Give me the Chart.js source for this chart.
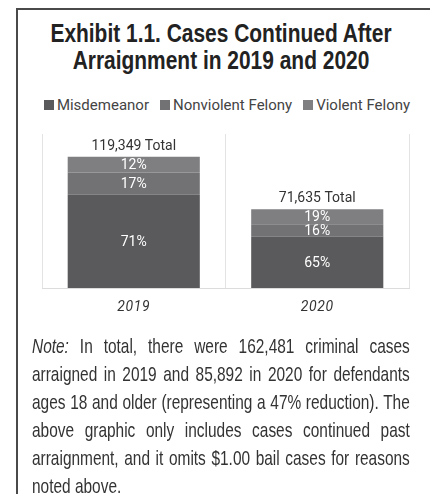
<!DOCTYPE html>
<html>
<head>
<meta charset="utf-8">
<script src="https://cdn.jsdelivr.net/npm/chart.js@4.4.0/dist/chart.umd.min.js"></script>
<style>
  html, body { margin: 0; padding: 0; background: #fff; }
  body { width: 430px; height: 494px; position: relative; overflow: hidden; }
  .frame {
    position: absolute; left: 16px; top: 8px; right: 0; bottom: 0;
    border-top: 2px solid #4a4a4a; border-left: 2px solid #4a4a4a;
  }
  .title {
    position: absolute; left: 0; top: 19.5px; width: 442px;
    text-align: center; white-space: nowrap;
    transform: scaleX(0.805); transform-origin: 221px 0;
    font-family: 'Liberation Sans', Arial, sans-serif; font-weight: bold;
    font-size: 26px; line-height: 27px; color: #222;
  }
  #legend {
    position: absolute; left: 0; top: 97px; width: 454px;
    display: flex; justify-content: center;
    font-family: Roboto, sans-serif; font-size: 15px; line-height: 16px; color: #444;
  }
  #legend .item { display: flex; align-items: center; margin: 0 5.5px; }
  #legend .box { width: 10px; height: 10px; margin-right: 3px; }
  #chart-wrap { position: absolute; left: 0; top: 0; width: 430px; height: 336px; }
  .note {
    position: absolute; left: 32px; top: 332px; width: 514px;
    transform: scaleX(0.735); transform-origin: 0 0;
    font-family: 'Liberation Sans', Arial, sans-serif;
    font-size: 21px; line-height: 28px; color: #333;
  }
  .note div { white-space: nowrap; text-align: justify; text-align-last: justify; }
  .note div:last-child { text-align-last: left; }
</style>
</head>
<body>
<div class="frame"></div>
<div class="title">Exhibit 1.1. Cases Continued After<br>Arraignment in 2019 and 2020</div>
<div id="legend"></div>
<div id="chart-wrap"><canvas id="chart"></canvas></div>
<div class="note">
  <div><i>Note:</i> In total, there were 162,481 criminal cases</div>
  <div>arraigned in 2019 and 85,892 in 2020 for defendants</div>
  <div>ages 18 and older (representing a 47% reduction). The</div>
  <div>above graphic only includes cases continued past</div>
  <div>arraignment, and it omits $1.00 bail cases for reasons</div>
  <div>noted above.</div>
</div>
<script>
const years = ['2019', '2020'];
const totals = [119349, 71635];
const misdemeanorPct = [71, 65];
const nonviolentPct = [17, 16];
const violentPct = [12, 19];
const seriesNames = ['Misdemeanor', 'Nonviolent Felony', 'Violent Felony'];
const seriesColors = ['#5a5a5c', '#727275', '#7f7f82'];

const shareSets = [misdemeanorPct, nonviolentPct, violentPct];

// spaced-out year labels on the x axis
const tickSpacing = {
  id: 'tickSpacing',
  beforeDraw(chart) {
    chart.ctx.letterSpacing = '0.6px';
  }
};

// percent labels inside each segment, total above each stack
const barLabels = {
  id: 'barLabels',
  afterDatasetsDraw(chart) {
    const ctx = chart.ctx;
    ctx.save();
    ctx.letterSpacing = '0px';
    ctx.textAlign = 'center';
    ctx.textBaseline = 'middle';
    ctx.fillStyle = '#fff';
    ctx.font = '14px Roboto';
    chart.data.datasets.forEach((ds, di) => {
      chart.getDatasetMeta(di).data.forEach((bar, i) => {
        ctx.fillText(ds.shares[i] + '%', bar.x, (bar.y + bar.base) / 2 + 1);
      });
    });
    const topMeta = chart.getDatasetMeta(chart.data.datasets.length - 1);
    ctx.fillStyle = '#333';
    ctx.font = '14px Roboto';
    ctx.textBaseline = 'alphabetic';
    topMeta.data.forEach((bar, i) => {
      ctx.fillText(totals[i].toLocaleString('en-US') + ' Total', bar.x, bar.y - 7);
    });
    ctx.restore();
  }
};

// legend as html so the spacing can be tight
const htmlLegend = {
  id: 'htmlLegend',
  afterUpdate(chart) {
    const box = document.getElementById('legend');
    box.innerHTML = '';
    chart.data.datasets.forEach((ds) => {
      const item = document.createElement('div');
      item.className = 'item';
      const sw = document.createElement('span');
      sw.className = 'box';
      sw.style.background = ds.backgroundColor;
      item.appendChild(sw);
      item.appendChild(document.createTextNode(ds.label));
      box.appendChild(item);
    });
  }
};

new Chart(document.getElementById('chart'), {
  type: 'bar',
  data: {
    labels: years,
    datasets: seriesNames.map((name, k) => ({
      label: name,
      data: totals.map((t, i) => t * shareSets[k][i] / 100),
      shares: shareSets[k],
      backgroundColor: seriesColors[k],
      borderWidth: 0,
      barPercentage: 0.72,
      categoryPercentage: 1
    }))
  },
  options: {
    responsive: true,
    maintainAspectRatio: false,
    animation: false,
    layout: { padding: { left: 42, right: 21, top: 134, bottom: 8.6 } },
    plugins: {
      title: { display: false },
      legend: { display: false },
      tooltip: { enabled: false }
    },
    scales: {
      x: {
        stacked: true,
        grid: { color: '#e3e3e3', offset: true, drawTicks: false },
        border: { color: '#dcdcdc' },
        ticks: {
          color: '#333',
          padding: 11.3,
          font: { family: 'Roboto', size: 14, style: 'italic' }
        }
      },
      y: {
        stacked: true,
        display: false,
        min: 0,
        max: 140000
      }
    }
  },
  plugins: [tickSpacing, barLabels, htmlLegend]
});
</script>
</body>
</html>
